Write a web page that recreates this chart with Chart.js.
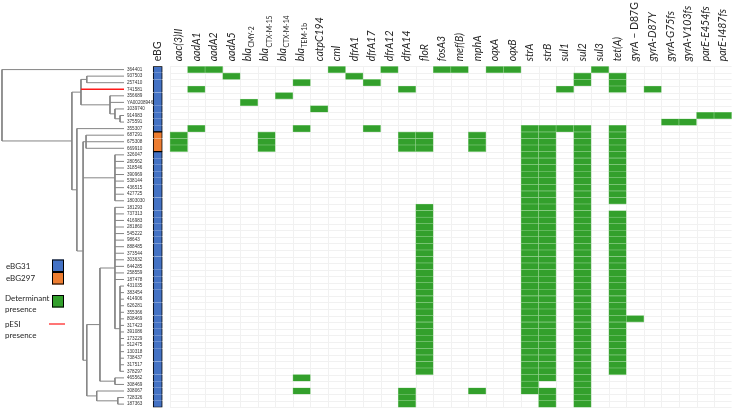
<!DOCTYPE html>
<html lang="en">
<head>
<meta charset="utf-8">
<title>eBG tree and resistance determinants</title>
<script src="https://cdn.jsdelivr.net/npm/chart.js@4.4.1/dist/chart.umd.min.js"></script>
<style>
  html, body { margin: 0; padding: 0; background: #fff; }
  canvas { display: block; }
</style>
</head>
<body>
<canvas id="amrChart" width="732" height="409"></canvas>
<script>
// tips of the tree, top to bottom (heatmap rows use the same order)
const strains = ['364401', '937503', '257410', '741581', '356689', 'YA00208946', '1039740', '914983', '375591',
  '355307', '687291', '675308', '669910', '326047', '280562', '318546', '390969', '538144', '436515', '427725',
  '1803030', '181293', '737313', '416983', '281860', '545222', '98643', '888485', '373544', '303632', '644285',
  '258559', '187478', '431035', '383454', '414906', '626281', '355366', '808469', '317423', '391086', '173229',
  '512475', '130318', '738437', '317517', '378297', '465562', '308469', '308067', '728326', '187363'];

// eBG of each tip, everything not listed is eBG31
const ebgLabels = ['eBG31', 'eBG297'];
const ebg297Strains = ['687291', '675308', '669910'];

// tips with pESI, their branch is red
const pesiStrains = ['741581'];

// column headers. "_" starts a subscript, "|" goes back to upright text
const genes = ['aac(3)II', 'aadA1', 'aadA2', 'aadA5', 'bla_CMY-2', 'bla_CTX-M-15', 'bla_CTX-M-14', 'bla_TEM-1b',
  'catpC194', 'cml', 'dfrA1', 'dfrA17', 'dfrA12', 'dfrA14', 'floR', 'fosA3', 'mef(B)', 'mphA', 'oqxA', 'oqxB',
  'strA', 'strB', 'sul1', 'sul2', 'sul3', 'tet(A)', 'gyrA| – D87G', 'gyrA-D87Y', 'gyrA-G75fs', 'gyrA-V103fs',
  'parE-E454fs', 'parE-I487fs'];

// one string per tip, one char per gene column (1 = determinant present)
const presence = [
  '01100000 01001001 10110000 10000000', // 364401
  '00010000 00100000 00000001 01000000',
  '00000001 00010000 00000001 01000000',
  '01000000 00000100 00000010 01010000', // 741581
  '00000010 00000000 00000000 00000000',
  '00001000 00000000 00000000 00000000',
  '00000000 10000000 00000000 00000000',
  '00000000 00000000 00000000 00000011',
  '00000000 00000000 00000000 00001100',
  '01000001 00010000 00001111 01000000', // 355307
  '10000100 00000110 01001101 01000000',
  '10000100 00000110 01001101 01000000',
  '10000100 00000110 01001101 01000000',
  '00000000 00000000 00001101 01000000', // 326047
  '00000000 00000000 00001101 01000000',
  '00000000 00000000 00001101 01000000',
  '00000000 00000000 00001101 01000000',
  '00000000 00000000 00001101 01000000',
  '00000000 00000000 00001101 01000000',
  '00000000 00000000 00001101 01000000',
  '00000000 00000000 00001101 01000000',
  '00000000 00000010 00001101 00000000', // 181293
  '00000000 00000010 00001101 01000000',
  '00000000 00000010 00001101 01000000',
  '00000000 00000010 00001101 01000000',
  '00000000 00000010 00001101 01000000',
  '00000000 00000010 00001101 01000000',
  '00000000 00000010 00001101 01000000',
  '00000000 00000010 00001101 01000000',
  '00000000 00000010 00001101 01000000',
  '00000000 00000010 00001101 01000000',
  '00000000 00000010 00001101 01000000',
  '00000000 00000010 00001101 01000000',
  '00000000 00000010 00001101 01000000', // 431035
  '00000000 00000010 00001101 01000000',
  '00000000 00000010 00001101 01000000',
  '00000000 00000010 00001101 01000000',
  '00000000 00000010 00001101 01000000',
  '00000000 00000010 00001101 01100000', // 808469
  '00000000 00000010 00001101 01000000',
  '00000000 00000010 00001101 01000000',
  '00000000 00000010 00001101 01000000',
  '00000000 00000010 00001101 01000000',
  '00000000 00000010 00001101 01000000',
  '00000000 00000010 00001101 01000000',
  '00000000 00000010 00001101 01000000',
  '00000000 00000010 00001101 01000000', // 378297
  '00000001 00000000 00001101 00000000',
  '00000000 00000000 00001001 00000000',
  '00000001 00000100 01001101 00000000', // 308067
  '00000000 00000100 00000101 00000000',
  '00000000 00000100 00000101 00000000'
];

// tree: [node depth (tips sit at 1), ...children], a child is a tip name or another node
const tree = [0.016, '364401',
  [0.58,
    [0.653, [0.70, '937503', '257410'], '741581',
      [0.887, '356689', 'YA00208946', [0.927, '1039740', [0.968, '914983', '375591']]]],
    [0.62, '355307',
      [0.67,
        [0.694, '687291', '675308', '669910'],
        [0.927, '326047', '280562', '318546', '390969', '538144', '436515', '427725', '1803030'],
        [0.70,
          [0.806,
            [0.927, '181293', '737313', '416983', '281860', '545222', '98643', '888485', '373544', '303632',
              '644285', '258559', '187478',
              [0.968, '431035', '383454', '414906', '626281', '355366', '808469', '317423', '391086', '173229',
                '512475', '130318', '738437', '317517', '378297']],
            [0.927, '465562', '308469']],
          [0.78, '308067', [0.95, '728326', '187363']]]]]]];

// layout
const W = 732, H = 409;
const ROWS_TOP = 66.3, ROWS_BOTTOM = 407.4;
const HEAT_LEFT = 170, CELL_W = 17.55;
const TREE_TIP = 124;
const X_MIN = -0.5 - HEAT_LEFT / CELL_W;
const X_MAX = X_MIN + W / CELL_W;
const EBG_COL = -1.2, EBG_HALF = 0.26;

const ebgColors = { eBG31: '#4472c4', eBG297: '#ed7d31' };
const GREEN = '#33a02c';
const TREE_GREY = '#858585';
const PESI_RED = '#ff1a1a';

function ebgOf(i) {
  return ebg297Strains.includes(strains[i]) ? ebgLabels[1] : ebgLabels[0];
}

// heatmap cells
const cells = [];
presence.forEach((row, r) => {
  row.replace(/\s/g, '').split('').forEach((v, c) => {
    if (v === '1') cells.push({ y: strains[r], x: [c - 0.5, c + 0.5] });
  });
});

// tree segments
const segments = [];
function layoutNode(node) {
  if (typeof node === 'string') return { x: 1, y: strains.indexOf(node), tip: node };
  const [d, ...kids] = node;
  const ks = kids.map(layoutNode);
  ks.forEach(k => segments.push({ pts: [{ x: d, y: k.y }, { x: k.x, y: k.y }], red: pesiStrains.includes(k.tip) }));
  segments.push({ pts: [{ x: d, y: ks[0].y }, { x: d, y: ks[ks.length - 1].y }], red: false });
  return { x: d, y: (ks[0].y + ks[ks.length - 1].y) / 2 };
}
layoutNode(tree);

const treeDatasets = segments.map(s => ({
  type: 'scatter',
  indexAxis: 'x',
  data: s.pts,
  showLine: true,
  borderColor: s.red ? PESI_RED : TREE_GREY,
  borderWidth: s.red ? 1.3 : 1,
  pointRadius: 0,
  xAxisID: 'xTree',
  yAxisID: 'yLine',
  order: s.red ? 0 : 1
}));

const ebgDataset = {
  data: strains.map(s => ({ y: s, x: [EBG_COL - EBG_HALF, EBG_COL + EBG_HALF] })),
  backgroundColor: ctx => ebgColors[ebgOf(ctx.dataIndex)],
  borderColor: '#000',
  borderWidth: ctx => {
    const i = ctx.dataIndex, g = ebgOf(i);
    return {
      left: 1, right: 1,
      top: (i === 0 || ebgOf(i - 1) !== g) ? 1 : 0,
      bottom: (i === strains.length - 1 || ebgOf(i + 1) !== g) ? 1 : 0
    };
  },
  borderSkipped: false,
  grouped: false,
  barPercentage: 1,
  categoryPercentage: 1,
  xAxisID: 'x',
  yAxisID: 'y'
};

const cellDataset = {
  data: cells,
  backgroundColor: GREEN,
  borderColor: '#8fd08a',
  borderWidth: 0.6,
  borderSkipped: false,
  grouped: false,
  barPercentage: 1,
  categoryPercentage: 1,
  xAxisID: 'x',
  yAxisID: 'y'
};

// faint cell grid behind the heatmap
const cellGrid = {
  id: 'cellGrid',
  beforeDatasetsDraw(chart) {
    const { ctx, chartArea: a, scales: { x, yLine } } = chart;
    const left = x.getPixelForValue(-0.5), right = x.getPixelForValue(genes.length - 0.5);
    ctx.save();
    ctx.strokeStyle = '#f1f1f1';
    ctx.lineWidth = 1;
    ctx.beginPath();
    for (let c = 0; c <= genes.length; c++) {
      const px = Math.round(x.getPixelForValue(c - 0.5)) + 0.5;
      ctx.moveTo(px, a.top); ctx.lineTo(px, a.bottom);
    }
    for (let r = 0; r <= strains.length; r++) {
      const py = Math.round(yLine.getPixelForValue(r - 0.5)) + 0.5;
      ctx.moveTo(left, py); ctx.lineTo(right, py);
    }
    ctx.stroke();
    ctx.restore();
  }
};

function drawHeader(ctx, label, px, bottom) {
  ctx.save();
  ctx.translate(px, bottom);
  ctx.rotate(-Math.PI / 2);
  ctx.textAlign = 'left';
  ctx.textBaseline = 'middle';
  let main = label, sub = '', upright = '';
  if (label.includes('_')) [main, sub] = label.split('_');
  if (label.includes('|')) [main, upright] = label.split('|');
  ctx.font = 'italic 10.5px Lato';
  const dy = sub ? -1.5 : 0;
  ctx.fillText(main, 0, dy);
  const w = ctx.measureText(main).width;
  if (sub) { ctx.font = '6.8px Lato'; ctx.fillText(sub, w + 0.5, 3); }
  if (upright) { ctx.font = '10.5px Lato'; ctx.fillText(upright, w, 0); }
  ctx.restore();
}

// gene headers, eBG header and tip names
const textLayer = {
  id: 'textLayer',
  afterDraw(chart) {
    const { ctx, chartArea: a, scales: { x, xTree, yLine } } = chart;
    ctx.save();
    ctx.fillStyle = '#262626';
    genes.forEach((g, c) => drawHeader(ctx, g, x.getPixelForValue(c), a.top - 5));
    ctx.translate(x.getPixelForValue(EBG_COL), a.top - 5);
    ctx.rotate(-Math.PI / 2);
    ctx.font = '10.5px Lato';
    ctx.textBaseline = 'middle';
    ctx.fillText('eBG', 0, 0);
    ctx.restore();

    ctx.save();
    ctx.fillStyle = '#333';
    ctx.font = '4.6px "Liberation Sans"';
    ctx.textBaseline = 'middle';
    const tx = xTree.getPixelForValue(1) + 3;
    strains.forEach((s, i) => ctx.fillText(s, tx, yLine.getPixelForValue(i)));
    ctx.restore();
  }
};

// legend at the lower left
const sideLegend = {
  id: 'sideLegend',
  afterDraw(chart) {
    const ctx = chart.ctx;
    const box = (y, h, color) => {
      ctx.fillStyle = color;
      ctx.fillRect(52, y, 12, h);
      ctx.strokeStyle = '#000';
      ctx.lineWidth = 1;
      ctx.strokeRect(52.5, y + 0.5, 11, h - 1);
    };
    ctx.save();
    box(259.5, 12.5, ebgColors.eBG31);
    box(272, 12.5, ebgColors.eBG297);
    box(295, 12.5, GREEN);
    ctx.strokeStyle = PESI_RED;
    ctx.lineWidth = 1.2;
    ctx.beginPath(); ctx.moveTo(49, 324); ctx.lineTo(65, 324); ctx.stroke();
    ctx.fillStyle = '#262626';
    ctx.font = '8px Lato';
    ctx.textBaseline = 'middle';
    ctx.fillText(ebgLabels[0], 6, 266);
    ctx.fillText(ebgLabels[1], 6, 278);
    ctx.fillText('Determinant', 5, 298);
    ctx.fillText('presence', 5, 309);
    ctx.fillText('pESI', 5, 324);
    ctx.fillText('presence', 5, 335);
    ctx.restore();
  }
};

new Chart(document.getElementById('amrChart'), {
  type: 'bar',
  data: { labels: strains, datasets: [ebgDataset, cellDataset, ...treeDatasets] },
  options: {
    indexAxis: 'y',
    responsive: false,
    animation: false,
    events: [],
    layout: { padding: { top: ROWS_TOP, bottom: H - ROWS_BOTTOM, left: 0, right: 0 } },
    plugins: { legend: { display: false }, tooltip: { enabled: false } },
    scales: {
      x: { type: 'linear', min: X_MIN, max: X_MAX, offset: false, display: false },
      y: { type: 'category', labels: strains, offset: true, display: false },
      xTree: { type: 'linear', axis: 'x', min: 0, max: W / TREE_TIP, offset: false, display: false },
      yLine: { type: 'linear', axis: 'y', min: -0.5, max: strains.length - 0.5, reverse: true, offset: false,
        bounds: 'data', display: false }
    }
  },
  plugins: [cellGrid, textLayer, sideLegend]
});
</script>
</body>
</html>
